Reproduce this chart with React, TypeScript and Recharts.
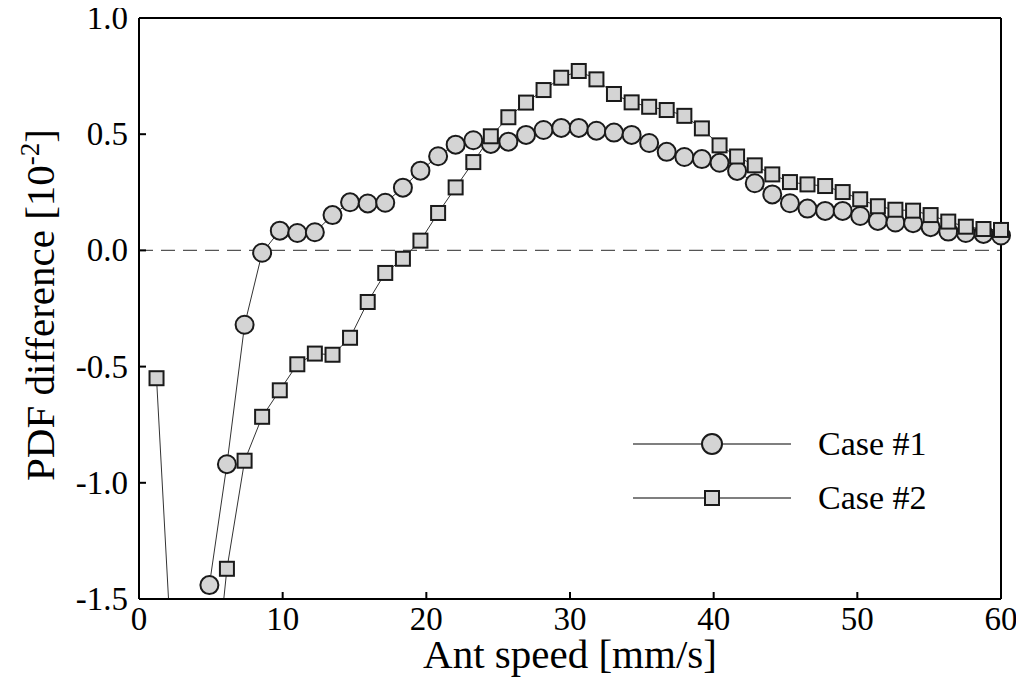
import { LineChart, Line, XAxis, YAxis, ReferenceLine, Legend } from 'recharts';

// ant speed bins [mm/s]
const speed = [
  1.22, 2.45, 3.67, 4.9, 6.12, 7.35, 8.57, 9.8, 11.02, 12.24,
  13.47, 14.69, 15.92, 17.14, 18.37, 19.59, 20.82, 22.04, 23.27, 24.49,
  25.71, 26.94, 28.16, 29.39, 30.61, 31.84, 33.06, 34.29, 35.51, 36.73,
  37.96, 39.18, 40.41, 41.63, 42.86, 44.08, 45.31, 46.53, 47.76, 48.98,
  50.2, 51.43, 52.65, 53.88, 55.1, 56.33, 57.55, 58.78, 60.0,
];

// PDF difference [10^-2]
const case1: (number | null)[] = [
  null, null, null, -1.44, -0.92, -0.32, -0.01, 0.085, 0.075, 0.078,
  0.152, 0.207, 0.202, 0.205, 0.27, 0.343, 0.405, 0.455, 0.474, 0.458,
  0.468, 0.497, 0.518, 0.527, 0.527, 0.515, 0.507, 0.497, 0.462, 0.424,
  0.402, 0.393, 0.377, 0.342, 0.289, 0.241, 0.203, 0.18, 0.17, 0.17,
  0.148, 0.127, 0.12, 0.117, 0.1, 0.081, 0.075, 0.071, 0.064,
];

const case2: number[] = [
  -0.55, -1.95, -2.4, -2.1, -1.37, -0.905, -0.716, -0.602, -0.49, -0.444,
  -0.449, -0.376, -0.222, -0.097, -0.036, 0.042, 0.161, 0.271, 0.38, 0.491,
  0.573, 0.636, 0.69, 0.743, 0.772, 0.736, 0.673, 0.637, 0.618, 0.604,
  0.579, 0.525, 0.452, 0.404, 0.366, 0.327, 0.294, 0.284, 0.277, 0.251,
  0.22, 0.19, 0.175, 0.171, 0.152, 0.124, 0.102, 0.092, 0.088,
];

const xTicks = [0, 10, 20, 30, 40, 50, 60];
const yTicks = [-1.5, -1.0, -0.5, 0.0, 0.5, 1.0];

const Y_MIN = -1.5;
const Y_MAX = 1.0;

const inRange = (v: number | null) => (v == null || v < Y_MIN || v > Y_MAX ? null : v);

const data = speed.map((s, i) => ({
  speed: s,
  c1: case1[i],
  c2: case2[i],
  c1m: inRange(case1[i]),
  c2m: inRange(case2[i]),
}));

const FONT = '"Liberation Serif", "DejaVu Serif", serif';
const MARK_FILL = '#d4d4d4';
const MARK_STROKE = '#1a1a1a';
const LINE_STROKE = '#333';

const CircleDot = (p: any) => {
  if (p.cx == null || p.cy == null || p.value == null) return <g key={p.key ?? p.index} />;
  return <circle key={p.key ?? p.index} cx={p.cx} cy={p.cy} r={9} fill={MARK_FILL} stroke={MARK_STROKE} strokeWidth={2} />;
};

const SquareDot = (p: any) => {
  if (p.cx == null || p.cy == null || p.value == null) return <g key={p.key ?? p.index} />;
  return <rect key={p.key ?? p.index} x={p.cx - 7} y={p.cy - 7} width={14} height={14} fill={MARK_FILL} stroke={MARK_STROKE} strokeWidth={2} />;
};

const YTick = (p: any) => (
  <g>
    <line x1={p.x} y1={p.y} x2={p.x + 7} y2={p.y} stroke="#000" strokeWidth={2} />
    <text x={p.x - 11} y={p.y + 11} textAnchor="end" fontFamily={FONT} fontSize={33} fill="#000">
      {Number(p.payload.value).toFixed(1)}
    </text>
  </g>
);

const XTick = (p: any) => (
  <g>
    {p.payload.value !== 0 && p.payload.value !== 60 && (
      <line x1={p.x} y1={p.y} x2={p.x} y2={p.y - 7} stroke="#000" strokeWidth={2} />
    )}
    <text x={p.x} y={p.y + 31} textAnchor="middle" fontFamily={FONT} fontSize={33} fill="#000">
      {p.payload.value}
    </text>
  </g>
);

const XTitle = (p: any) => {
  const vb = p.viewBox;
  return (
    <text x={vb.x + vb.width / 2} y={vb.y + 69} textAnchor="middle" fontFamily={FONT} fontSize={41} fill="#000">
      Ant speed [mm/s]
    </text>
  );
};

const YTitle = () => {
  const cx = 46;
  const cy = 297;
  return (
    <text x={cx} y={cy} transform={`rotate(-90 ${cx} ${cy})`} textAnchor="middle" fontFamily={FONT} fontSize={41} fill="#000">
      PDF difference [10
      <tspan fontSize={27} dy={-15}>-2</tspan>
      <tspan dy={15}>]</tspan>
    </text>
  );
};

const LegendBox = () => (
  <svg width={330} height={108} style={{ display: 'block' }}>
    <line x1={0} y1={27} x2={158} y2={27} stroke="#555" strokeWidth={1.5} />
    <circle cx={79} cy={27} r={10} fill={MARK_FILL} stroke={MARK_STROKE} strokeWidth={2} />
    <text x={185} y={38} fontFamily={FONT} fontSize={34} fill="#000">Case #1</text>
    <line x1={0} y1={81} x2={158} y2={81} stroke="#555" strokeWidth={1.5} />
    <rect x={72} y={74} width={14} height={14} fill={MARK_FILL} stroke={MARK_STROKE} strokeWidth={2} />
    <text x={185} y={92} fontFamily={FONT} fontSize={34} fill="#000">Case #2</text>
  </svg>
);

export default function App() {
  return (
    <div style={{ width: 1010, height: 676, background: '#fff' }}>
      <LineChart width={1010} height={676} data={data} margin={{ top: 10, right: 17, left: 0, bottom: 0 }}>
        <XAxis
          dataKey="speed"
          type="number"
          domain={[0, 60]}
          ticks={xTicks}
          height={85}
          tickSize={0}
          tickMargin={0}
          tick={XTick}
          axisLine={{ stroke: '#000', strokeWidth: 2 }}
          label={XTitle}
        />
        <YAxis
          yAxisId="main"
          type="number"
          domain={[Y_MIN, Y_MAX]}
          ticks={yTicks}
          allowDataOverflow
          width={131}
          tickSize={0}
          tickMargin={0}
          tick={YTick}
          axisLine={{ stroke: '#000', strokeWidth: 2 }}
          label={YTitle}
        />
        <YAxis yAxisId="marks" type="number" domain={[Y_MIN, Y_MAX]} hide />
        <ReferenceLine yAxisId="main" y={0} stroke="#555" strokeWidth={1.2} strokeDasharray="14 8" />
        <ReferenceLine yAxisId="main" y={Y_MAX} stroke="#000" strokeWidth={2} />
        <ReferenceLine yAxisId="main" x={60} stroke="#000" strokeWidth={2} />
        <Line yAxisId="main" dataKey="c1" stroke={LINE_STROKE} strokeWidth={1} dot={false} activeDot={false} isAnimationActive={false} legendType="none" />
        <Line yAxisId="marks" dataKey="c1m" stroke="none" dot={CircleDot} activeDot={false} isAnimationActive={false} legendType="none" />
        <Line yAxisId="main" dataKey="c2" stroke={LINE_STROKE} strokeWidth={1} dot={false} activeDot={false} isAnimationActive={false} legendType="none" />
        <Line yAxisId="marks" dataKey="c2m" stroke="none" dot={SquareDot} activeDot={false} isAnimationActive={false} legendType="none" />
        <Legend
          layout="horizontal"
          verticalAlign="middle"
          align="center"
          content={LegendBox}
          wrapperStyle={{ left: 625, top: 409, width: 330, height: 108 }}
        />
      </LineChart>
    </div>
  );
}
